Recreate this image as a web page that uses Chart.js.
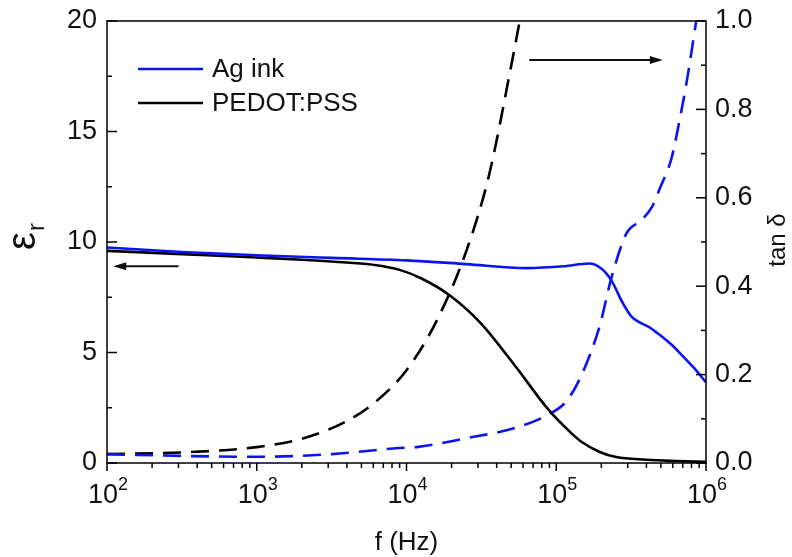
<!DOCTYPE html>
<html>
<head>
<meta charset="utf-8">
<script src="https://cdn.jsdelivr.net/npm/chart.js@4"></script>
<style>
body { margin: 0; background: #fff; }
canvas { display: block; }
</style>
</head>
<body>
<canvas id="chart" width="792" height="557"></canvas>
<script>
// permittivity (left axis)
const agFreq = [100, 316, 1000, 3160, 10000, 25000, 63000, 112000, 166000, 200000, 234000, 275000, 316000, 363000, 417000, 490000, 589000, 708000, 832000, 1000000];
const agEps = [9.75, 9.55, 9.4, 9.28, 9.17, 9.0, 8.82, 8.9, 9.03, 8.8, 8.25, 7.3, 6.65, 6.35, 6.15, 5.8, 5.35, 4.8, 4.3, 3.65];
const pedotFreq = [100, 316, 1000, 2000, 4000, 6300, 8900, 12600, 19500, 31600, 54000, 89000, 126000, 148000, 195000, 251000, 400000, 631000, 1000000];
const pedotEps = [9.6, 9.45, 9.3, 9.2, 9.07, 8.95, 8.75, 8.35, 7.58, 6.3, 4.33, 2.4, 1.35, 0.95, 0.5, 0.27, 0.15, 0.09, 0.05];

// loss tangent (right axis)
const agTanFreq = [100, 316, 1000, 3160, 8900, 11700, 25000, 54000, 89000, 117000, 148000, 195000, 234000, 295000, 372000, 437000, 490000, 589000, 661000, 741000, 851000, 1000000];
const agTan = [0.02, 0.016, 0.014, 0.02, 0.034, 0.036, 0.056, 0.08, 0.11, 0.14, 0.2, 0.31, 0.42, 0.52, 0.55, 0.58, 0.62, 0.69, 0.77, 0.86, 0.99, 1.15];
const pedotTanFreq = [100, 316, 1000, 2000, 4000, 6300, 10000, 15800, 25100, 35500, 50100, 63100];
const pedotTan = [0.02, 0.024, 0.036, 0.055, 0.095, 0.14, 0.21, 0.32, 0.48, 0.65, 0.9, 1.08];

// axis ticks
const xMajor = [100, 1000, 10000, 100000, 1000000];
const xMinor = [];
xMajor.slice(0, -1).forEach(d => { for (let m = 2; m <= 9; m++) xMinor.push(d * m); });
const yMajor = [0, 5, 10, 15, 20];
const yMinor = [2.5, 7.5, 12.5, 17.5];
const y1Major = [0, 0.2, 0.4, 0.6, 0.8, 1.0];
const y1Minor = [0.1, 0.3, 0.5, 0.7, 0.9];

// arrows: [fromX, toX, y, axis]
const arrowLeft = [300, 110, 8.9, 'y'];
const arrowRight = [66000, 515000, 0.912, 'y1'];

const BLUE = '#0a14f0';
const FONT = "'Liberation Sans', Arial, sans-serif";

function pts(xs, ys) {
    return xs.map((x, i) => ({ x: x, y: ys[i] }));
}

const decor = {
    id: 'decor',
    afterDraw(chart) {
        const ctx = chart.ctx;
        const a = chart.chartArea;
        const sx = chart.scales.x, sy = chart.scales.y, sy1 = chart.scales.y1;
        ctx.save();
        ctx.strokeStyle = '#000';
        ctx.lineWidth = 1.5;
        ctx.strokeRect(a.left, a.top, a.right - a.left, a.bottom - a.top);

        function seg(x1, y1, x2, y2) {
            ctx.beginPath();
            ctx.moveTo(x1, y1);
            ctx.lineTo(x2, y2);
            ctx.stroke();
        }
        // x ticks point outward
        xMajor.forEach(v => { const p = sx.getPixelForValue(v); seg(p, a.bottom, p, a.bottom + 8); });
        xMinor.forEach(v => { const p = sx.getPixelForValue(v); seg(p, a.bottom, p, a.bottom + 5); });
        // y ticks point inward
        yMajor.forEach(v => { const p = sy.getPixelForValue(v); seg(a.left, p, a.left + 10, p); });
        yMinor.forEach(v => { const p = sy.getPixelForValue(v); seg(a.left, p, a.left + 5, p); });
        y1Major.forEach(v => { const p = sy1.getPixelForValue(v); seg(a.right, p, a.right - 10, p); });
        y1Minor.forEach(v => { const p = sy1.getPixelForValue(v); seg(a.right, p, a.right - 5, p); });

        // x tick labels with real superscripts
        ctx.fillStyle = '#111';
        ctx.textBaseline = 'alphabetic';
        xMajor.forEach(v => {
            const p = sx.getPixelForValue(v);
            const exp = String(Math.round(Math.log10(v)));
            ctx.font = '27px ' + FONT;
            const w1 = ctx.measureText('10').width;
            ctx.font = '18px ' + FONT;
            const w2 = ctx.measureText(exp).width;
            const left = p - (w1 + w2) / 2 + 1;
            ctx.textAlign = 'left';
            ctx.font = '27px ' + FONT;
            ctx.fillText('10', left, 503);
            ctx.font = '18px ' + FONT;
            ctx.fillText(exp, left + w1, 490);
        });

        // arrows
        [arrowLeft, arrowRight].forEach(ar => {
            const x1 = sx.getPixelForValue(ar[0]);
            const x2 = sx.getPixelForValue(ar[1]);
            const y = chart.scales[ar[3]].getPixelForValue(ar[2]);
            const dir = x2 > x1 ? 1 : -1;
            ctx.strokeStyle = '#111';
            ctx.fillStyle = '#111';
            ctx.lineWidth = 2;
            seg(x1, y, x2 - dir * 8, y);
            ctx.beginPath();
            ctx.moveTo(x2, y);
            ctx.lineTo(x2 - dir * 13, y - 4);
            ctx.lineTo(x2 - dir * 13, y + 4);
            ctx.closePath();
            ctx.fill();
        });

        // legend
        ctx.fillStyle = '#111';
        ctx.font = '26px ' + FONT;
        ctx.textAlign = 'left';
        const items = [chart.data.datasets[0], chart.data.datasets[1]];
        items.forEach((ds, i) => {
            const ly = 69 + i * 34;
            ctx.strokeStyle = ds.borderColor;
            ctx.lineWidth = 2.5;
            seg(138, ly, 203, ly);
            ctx.fillText(ds.label, 212, ly + 8);
        });

        // axis titles
        ctx.fillStyle = '#111';
        ctx.textAlign = 'center';
        ctx.font = '26px ' + FONT;
        ctx.fillText('f (Hz)', (a.left + a.right) / 2, 550);

        ctx.save();
        ctx.translate(785, 240);
        ctx.rotate(-Math.PI / 2);
        ctx.font = '24px ' + FONT;
        ctx.fillText('tan δ', 0, 0);
        ctx.restore();

        ctx.save();
        ctx.translate(35, 250);
        ctx.rotate(-Math.PI / 2);
        ctx.textAlign = 'left';
        ctx.font = '40px ' + FONT;
        ctx.fillText('ε', 0, 0);
        ctx.font = '24px ' + FONT;
        ctx.fillText('r', 19, 9);
        ctx.restore();

        ctx.restore();
    }
};

function noPad(s) {
    s.paddingTop = 0;
    s.paddingBottom = 0;
    s.paddingLeft = 0;
    s.paddingRight = 0;
}

const ctx = document.getElementById('chart').getContext('2d');
new Chart(ctx, {
    type: 'line',
    data: {
        datasets: [
            { label: 'Ag ink', data: pts(agFreq, agEps), yAxisID: 'y', borderColor: BLUE, borderWidth: 2.6 },
            { label: 'PEDOT:PSS', data: pts(pedotFreq, pedotEps), yAxisID: 'y', borderColor: '#000', borderWidth: 2.6 },
            { label: 'Ag ink tan', data: pts(agTanFreq, agTan), yAxisID: 'y1', borderColor: BLUE, borderWidth: 2.6, borderDash: [18, 10] },
            { label: 'PEDOT:PSS tan', data: pts(pedotTanFreq, pedotTan), yAxisID: 'y1', borderColor: '#000', borderWidth: 2.6, borderDash: [18, 10] }
        ]
    },
    options: {
        responsive: false,
        animation: false,
        devicePixelRatio: 1,
        layout: { padding: { top: 21, left: 0, right: 0, bottom: 0 } },
        elements: {
            point: { radius: 0 },
            line: { cubicInterpolationMode: 'monotone', fill: false }
        },
        plugins: {
            legend: { display: false },
            tooltip: { enabled: false }
        },
        scales: {
            x: {
                type: 'logarithmic',
                position: 'bottom',
                min: 100,
                max: 1000000,
                afterFit: s => { s.height = 94; noPad(s); },
                grid: { display: false, drawTicks: false },
                border: { display: false },
                ticks: { display: false }
            },
            y: {
                position: 'left',
                min: 0,
                max: 20,
                afterFit: s => { s.width = 107; noPad(s); },
                afterBuildTicks: s => { s.ticks = yMajor.map(v => ({ value: v })); },
                grid: { display: false, drawTicks: false },
                border: { display: false },
                ticks: { padding: 10, color: '#111', font: { size: 27, family: FONT } }
            },
            y1: {
                position: 'right',
                min: 0,
                max: 1,
                afterFit: s => { s.width = 86; noPad(s); },
                afterBuildTicks: s => { s.ticks = y1Major.map(v => ({ value: v })); },
                grid: { display: false, drawTicks: false },
                border: { display: false },
                ticks: {
                    padding: 9,
                    color: '#111',
                    font: { size: 27, family: FONT },
                    callback: v => v.toFixed(1)
                }
            }
        }
    },
    plugins: [decor]
});
</script>
</body>
</html>
